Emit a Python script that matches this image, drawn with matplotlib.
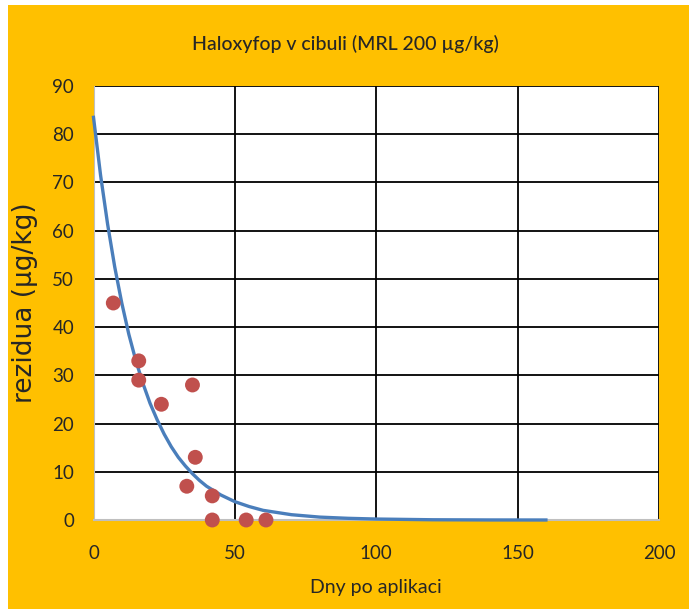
import matplotlib
matplotlib.use("Agg")
import matplotlib.pyplot as plt
from matplotlib.patches import Rectangle

# measured residues (days after application, µg/kg)
days = [7, 16, 16, 24, 35, 36, 33, 42, 42, 54, 61]
residues = [45, 33, 29, 24, 28, 13, 7, 5, 0, 0, 0]

# decay trend line
trend_days = [0, 2.5, 5, 7.5, 10, 12.5, 15, 17.5, 20, 22.5, 25, 27.5, 30, 32.5, 35, 37.5,
              40, 45, 50, 55, 60, 70, 80, 90, 100, 120, 140, 160]
trend_res = [83.5, 71.5, 61.3, 52.5, 45.0, 38.5, 33.0, 28.3, 24.2, 20.8, 17.8, 15.2, 13.0,
             11.2, 9.6, 8.2, 7.0, 5.2, 3.8, 2.8, 2.0, 1.1, 0.6, 0.35, 0.2, 0.05, 0.01, 0.0]

x_ticks = [0, 50, 100, 150, 200]
y_ticks = [0, 10, 20, 30, 40, 50, 60, 70, 80, 90]

ORANGE = "#FFC000"
BLUE = "#4A7EBB"
RED = "#C0504D"
TXT = "#262626"
NARROW = ["Lato", "DejaVu Sans"]

W, H = 689, 609
fig = plt.figure(figsize=(W / 100, H / 100), dpi=100, facecolor="white")
fig.patches.append(Rectangle((8 / W, 0), 1, 1 - 5 / H, transform=fig.transFigure,
                             facecolor=ORANGE, edgecolor="none", zorder=-10))

ax = fig.add_axes([93.5 / W, 1 - 520 / H, (659 - 93.5) / W, (520 - 86) / H])
ax.set_facecolor("white")

ax.plot(trend_days, trend_res, color=BLUE, lw=2.4, zorder=3, clip_on=False,
        solid_joinstyle="round")
ax.scatter(days, residues, s=115, color=RED, edgecolors="none", zorder=4, clip_on=False)

ax.set_xlim(0, 200)
ax.set_ylim(0, 90)
ax.set_xticks(x_ticks)
ax.set_yticks(y_ticks)
ax.grid(True, color="black", lw=1.3, zorder=1)
ax.set_axisbelow(True)
ax.tick_params(length=0, labelsize=13.5, colors=TXT)
ax.tick_params(axis="x", pad=18)
ax.tick_params(axis="y", pad=14)
for lab in ax.get_xticklabels() + ax.get_yticklabels():
    lab.set_family(NARROW)

for s in ["top", "right"]:
    ax.spines[s].set_visible(False)
ax.spines["left"].set_color("#BFBFBF")
ax.spines["bottom"].set_color("#BFBFBF")
ax.spines["bottom"].set_linewidth(1.5)

ax.set_xlabel("Dny po aplikaci", fontsize=14, color=TXT, family=NARROW, labelpad=12)
ax.set_ylabel("rezidua (µg/kg)", fontsize=19, color=TXT, labelpad=10)
fig.text(345 / W, 1 - 44 / H, "Haloxyfop v cibuli (MRL 200 µg/kg)",
         ha="center", va="center", fontsize=14, color=TXT, family=NARROW,
         fontweight="medium")

fig.savefig("out.png", dpi=100, facecolor=fig.get_facecolor())
